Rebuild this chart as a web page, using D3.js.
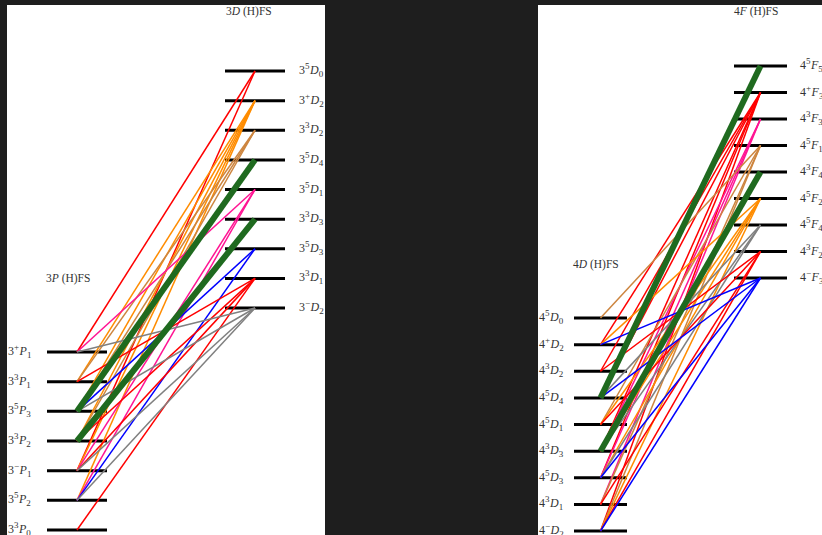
<!DOCTYPE html>
<html>
<head>
<meta charset="utf-8">
<script src="https://cdn.jsdelivr.net/npm/d3@7"></script>
<style>
  body { margin: 0; background: #1e1e1e; }
  svg { display: block; }
  text { font-family: "Liberation Serif", "DejaVu Serif", serif; fill: #333; }
</style>
</head>
<body>
<div id="chart"></div>
<script>
// ---- left diagram: 3P -> 3D ----
const leftUpper = ["5D0", "+D2", "3D2", "5D4", "5D1", "3D3", "5D3", "3D1", "-D2"];
const leftLower = ["+P1", "3P1", "5P3", "3P2", "-P1", "5P2", "3P0"];
const leftColors = ["red", "darkorange", "peru", "#1f6a1f", "deeppink", "#1f6a1f", "blue", "red", "gray"];
const leftStrong = ["5D4", "3D3"];
const leftLinks = [
  ["5D0", "+P1"], ["5D0", "-P1"],
  ["+D2", "3P1"], ["+D2", "5P3"], ["+D2", "3P2"], ["+D2", "-P1"], ["+D2", "5P2"],
  ["3D2", "3P1"], ["3D2", "5P3"], ["3D2", "3P2"],
  ["5D1", "+P1"], ["5D1", "-P1"], ["5D1", "5P2"],
  ["5D3", "5P3"], ["5D3", "5P2"],
  ["3D1", "3P1"], ["3D1", "3P2"], ["3D1", "-P1"], ["3D1", "3P0"],
  ["-D2", "+P1"], ["-D2", "5P3"], ["-D2", "-P1"], ["-D2", "5P2"],
  ["5D4", "5P3"], ["3D3", "3P2"]
];

// ---- right diagram: 4D -> 4F ----
const rightUpper = ["5F5", "+F3", "3F3", "5F1", "3F4", "5F2", "5F4", "3F2", "-F3"];
const rightLower = ["5D0", "+D2", "3D2", "5D4", "5D1", "3D3", "5D3", "3D1", "-D2"];
const rightColors = ["#1f6a1f", "red", "deeppink", "peru", "#1f6a1f", "darkorange", "gray", "red", "blue"];
const rightStrong = ["5F5", "3F4"];
const rightLinks = [
  ["+F3", "+D2"], ["+F3", "3D2"], ["+F3", "5D4"], ["+F3", "3D3"], ["+F3", "5D3"], ["+F3", "-D2"],
  ["3F3", "3D3"], ["3F3", "3D1"], ["3F3", "5D3"],
  ["5F1", "5D0"], ["5F1", "5D1"], ["5F1", "3D1"], ["5F1", "-D2"],
  ["5F2", "+D2"], ["5F2", "5D1"], ["5F2", "3D3"], ["5F2", "5D3"], ["5F2", "-D2"],
  ["5F4", "5D4"], ["5F4", "3D3"], ["5F4", "5D3"],
  ["3F2", "3D2"], ["3F2", "5D1"], ["3F2", "3D1"], ["3F2", "-D2"],
  ["-F3", "+D2"], ["-F3", "5D4"], ["-F3", "5D3"], ["-F3", "-D2"],
  ["5F5", "5D4"], ["3F4", "3D3"]
];

const svg = d3.select("#chart").append("svg").attr("width", 822).attr("height", 535);

function label(sel, n, key) {
  // key like "5D0": superscript, letter, subscript
  const sup = key[0] === "-" ? "\u2212" : key[0];
  sel.append("tspan").text(n);
  sel.append("tspan").attr("font-size", 9).attr("dy", -5).text(sup);
  sel.append("tspan").attr("font-style", "italic").attr("dy", 5).attr("dx", 0.5).text(key[1]);
  sel.append("tspan").attr("font-size", 9).attr("dy", 3).text(key[2]);
}

function drawPanel(p) {
  const clipId = "clip" + p.id;
  svg.append("clipPath").attr("id", clipId)
    .append("rect").attr("x", p.x0).attr("y", 5).attr("width", p.x1 - p.x0).attr("height", 530);
  const g = svg.append("g").attr("clip-path", "url(#" + clipId + ")");
  g.append("rect").attr("x", p.x0).attr("y", 5).attr("width", p.x1 - p.x0).attr("height", 530).attr("fill", "#fff");

  const yUp = d3.scalePoint().domain(p.upper).range(p.upY);
  const yLo = d3.scalePoint().domain(p.lower).range(p.loY);
  const color = d3.scaleOrdinal().domain(p.upper).range(p.colors);

  // level bars
  g.selectAll(".up").data(p.upper).enter().append("line")
    .attr("x1", p.upX[0]).attr("x2", p.upX[1])
    .attr("y1", d => yUp(d)).attr("y2", d => yUp(d))
    .attr("stroke", "#000").attr("stroke-width", 3);
  g.selectAll(".lo").data(p.lower).enter().append("line")
    .attr("x1", p.loX[0]).attr("x2", p.loX[1])
    .attr("y1", d => yLo(d)).attr("y2", d => yLo(d))
    .attr("stroke", "#000").attr("stroke-width", 3);

  // transitions
  const upMid = (p.upX[0] + p.upX[1]) / 2;
  const loMid = (p.loX[0] + p.loX[1]) / 2;
  g.selectAll(".tr").data(p.links).enter().append("line")
    .attr("x1", upMid).attr("y1", d => yUp(d[0]))
    .attr("x2", loMid).attr("y2", d => yLo(d[1]))
    .attr("stroke", d => color(d[0]))
    .attr("stroke-width", d => p.strong.includes(d[0]) ? 6 : 1.5);

  // labels
  g.selectAll(".ul").data(p.upper).enter().append("text")
    .attr("x", p.upLabelX).attr("y", d => yUp(d) + 3)
    .attr("font-size", 12)
    .each(function(d) { label(d3.select(this), p.n, d); });
  g.selectAll(".ll").data(p.lower).enter().append("text")
    .attr("x", p.loLabelX).attr("y", d => yLo(d) + 3)
    .attr("font-size", 12)
    .each(function(d) { label(d3.select(this), p.n, d); });

  // titles
  p.titles.forEach(t => {
    const tx = g.append("text").attr("x", t.x).attr("y", t.y).attr("font-size", 11.5);
    tx.append("tspan").text(p.n);
    tx.append("tspan").attr("font-style", "italic").text(t.L);
    tx.append("tspan").text(" (H)FS");
  });
}

drawPanel({
  id: "L", n: "3", x0: 7, x1: 325,
  upper: leftUpper, lower: leftLower, colors: leftColors, strong: leftStrong, links: leftLinks,
  upY: [71, 308], loY: [352, 530], upX: [225, 285], loX: [47, 107],
  upLabelX: 299, loLabelX: 8,
  titles: [{ x: 226, y: 15, L: "D" }, { x: 46, y: 282, L: "P" }]
});

drawPanel({
  id: "R", n: "4", x0: 538, x1: 822,
  upper: rightUpper, lower: rightLower, colors: rightColors, strong: rightStrong, links: rightLinks,
  upY: [66, 278], loY: [318, 531], upX: [734, 787], loX: [574, 627],
  upLabelX: 800, loLabelX: 539,
  titles: [{ x: 734, y: 15, L: "F" }, { x: 573, y: 268, L: "D" }]
});
</script>
</body>
</html>
